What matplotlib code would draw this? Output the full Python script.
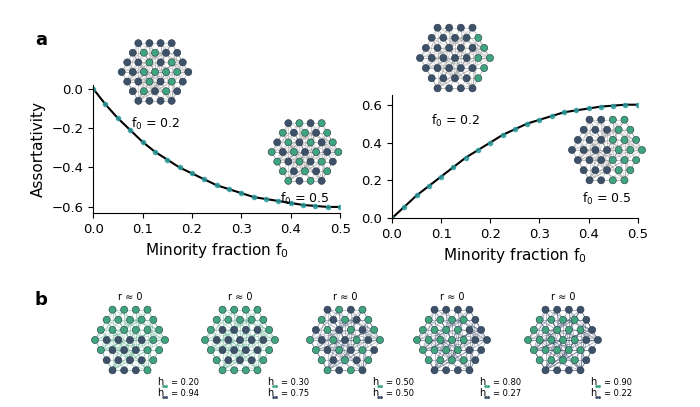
import matplotlib.pyplot as plt
import numpy as np

W, H = 700.0, 407.0
DARK = '#3d5169'
GREEN = '#3fa57c'
TEAL = '#2a9a9c'


def px_axes(fig, cx, cy, r):
	# axes centred at pixel (cx, cy) with half-size r
	return fig.add_axes([(cx - r) / W, 1 - (cy + r) / H, 2 * r / W, 2 * r / H])


def disc_nodes(n_rows):
	pts = []
	for i in range(-n_rows, n_rows + 1):
		for j in range(-n_rows, n_rows + 1):
			x = (j + 0.5 * (i % 2)) / n_rows
			y = i * 0.866 / n_rows
			if x * x + y * y <= 1.05:
				pts.append((x, y))
	return np.array(pts)


def draw_network(ax, rule, edgecol='#9a9a9a'):
	pts = disc_nodes(3)
	n = len(pts)
	cols = [GREEN if rule(x, y) else DARK for x, y in pts]
	for i in range(n):
		for j in range(i + 1, n):
			d = np.hypot(*(pts[i] - pts[j]))
			if d < 0.4 or (i * 7 + j * 3) % 9 == 0:
				ax.plot([pts[i][0], pts[j][0]], [pts[i][1], pts[j][1]], color=edgecol, lw=0.5, alpha=0.6, zorder=1)
	ax.scatter(pts[:, 0], pts[:, 1], s=26, c=cols, edgecolors='#26364a', linewidths=0.4, zorder=2)
	ax.set_xlim(-1.2, 1.2)
	ax.set_ylim(-1.2, 1.2)
	ax.axis('off')


def style(ax):
	ax.spines['top'].set_visible(False)
	ax.spines['right'].set_visible(False)
	ax.tick_params(labelsize=9.5)


def main():
	# simulation points
	f = np.array([0.0, 0.025, 0.05, 0.075, 0.1, 0.125, 0.15, 0.175, 0.2, 0.225, 0.25, 0.275, 0.3, 0.325, 0.35, 0.375, 0.4, 0.425, 0.45, 0.475, 0.5])
	r_neg = np.array([0.0, -0.08, -0.15, -0.21, -0.27, -0.32, -0.36, -0.40, -0.43, -0.46, -0.49, -0.51, -0.53, -0.55, -0.56, -0.57, -0.58, -0.59, -0.595, -0.6, -0.6])
	r_pos = np.array([0.0, 0.06, 0.12, 0.17, 0.22, 0.27, 0.32, 0.36, 0.40, 0.44, 0.47, 0.50, 0.52, 0.54, 0.56, 0.57, 0.58, 0.59, 0.595, 0.6, 0.6])

	fig = plt.figure(figsize=(7, 4.07), dpi=100)

	ax1 = fig.add_axes([0.133, 0.477, 0.353, 0.315])
	ax1.plot(f, r_neg, color='black', lw=1.5)
	ax1.plot(f, r_neg, 'o', color=TEAL, ms=3, alpha=0.8)
	ax1.set_xlim(0, 0.5)
	ax1.set_ylim(-0.63, 0.02)
	ax1.set_yticks([0.0, -0.2, -0.4, -0.6])
	ax1.set_xticks([0.0, 0.1, 0.2, 0.3, 0.4, 0.5])
	ax1.set_ylabel('Assortativity', fontsize=11)
	ax1.set_xlabel('Minority fraction f$_0$', fontsize=11)
	style(ax1)

	ax2 = fig.add_axes([0.560, 0.464, 0.351, 0.302])
	ax2.plot(f, r_pos, color='black', lw=1.5)
	ax2.plot(f, r_pos, 'o', color=TEAL, ms=3, alpha=0.8)
	ax2.set_xlim(0, 0.5)
	ax2.set_ylim(0, 0.65)
	ax2.set_yticks([0.0, 0.2, 0.4, 0.6])
	ax2.set_xticks([0.0, 0.1, 0.2, 0.3, 0.4, 0.5])
	ax2.set_xlabel('Minority fraction f$_0$', fontsize=11)
	style(ax2)

	# insets of panel a
	draw_network(px_axes(fig, 155, 72, 40), lambda x, y: x * x + y * y < 0.45 and (x - y) % 0.6 < 0.35)
	draw_network(px_axes(fig, 305, 152, 40), lambda x, y: int(round((x + 1) * 3 + (y + 1) * 2)) % 2 == 0)
	draw_network(px_axes(fig, 455, 58, 42), lambda x, y: x > 0.55)
	draw_network(px_axes(fig, 607, 150, 42), lambda x, y: x > 0.05)
	fig.text(155 / W, 1 - 128 / H, 'f$_0$ = 0.2', ha='center', fontsize=9)
	fig.text(305 / W, 1 - 203 / H, 'f$_0$ = 0.5', ha='center', fontsize=9)
	fig.text(455 / W, 1 - 125 / H, 'f$_0$ = 0.2', ha='center', fontsize=9)
	fig.text(607 / W, 1 - 203 / H, 'f$_0$ = 0.5', ha='center', fontsize=9)

	# panel b
	centres = [130, 240, 345, 452, 563]
	rules = [lambda x, y: y > 0.15 or x > 0.45 or x < -0.8,
		lambda x, y: x * x + y * y > 0.6 or y > 0.45,
		lambda x, y: int(round((x + 1) * 3 + (y + 1) * 2)) % 2 == 0,
		lambda x, y: x < 0.4 and abs(y) < 0.7,
		lambda x, y: x < 0.55 and abs(y) < 0.8]
	edges = ['#6fb89a', '#6fb89a', '#6a7a8c', '#5a6a80', '#4a5a72']
	hs = [('0.20', '0.94'), ('0.30', '0.75'), ('0.50', '0.50'), ('0.80', '0.27'), ('0.90', '0.22')]
	for cx, rule, ec, (h1, h2) in zip(centres, rules, edges, hs):
		draw_network(px_axes(fig, cx, 340, 42), rule, ec)
		fig.text(cx / W, 1 - 300 / H, 'r ≈ 0', ha='center', fontsize=7)
		for k, (val, c) in enumerate([(h1, GREEN), (h2, DARK)]):
			y = 1 - (385 + 11 * k) / H
			fig.text((cx + 27) / W, y, 'h', fontsize=7)
			fig.text((cx + 32) / W, y - 3 / H, '●●', fontsize=3, color=c)
			fig.text((cx + 41) / W, y, '= ' + val, fontsize=6)

	fig.text(35 / W, 1 - 45 / H, 'a', fontsize=13, weight='bold')
	fig.text(35 / W, 1 - 305 / H, 'b', fontsize=13, weight='bold')

	fig.savefig('out.png', dpi=100)


if __name__ == '__main__':
	main()
